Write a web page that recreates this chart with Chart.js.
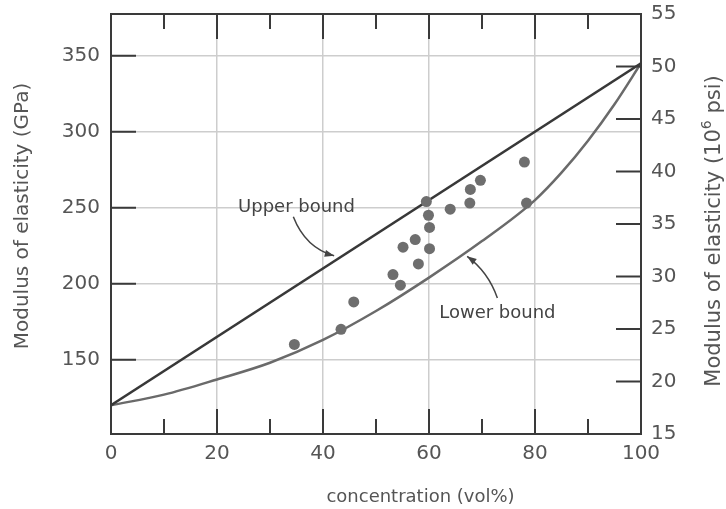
<!DOCTYPE html>
<html>
<head>
<meta charset="utf-8">
<script src="https://cdn.jsdelivr.net/npm/chart.js@4.4.0/dist/chart.umd.min.js"></script>
<style>
  html, body { margin: 0; padding: 0; background: #fff; }
</style>
</head>
<body>
<canvas id="chart" width="726" height="509"></canvas>
<script>
// bounds (GPa vs vol%)
const upperConc = [0, 100];
const upperModulus = [120, 345];
const lowerConc = [0, 10, 20, 30, 40, 50, 60, 70, 80, 85, 90, 95, 100];
const lowerModulus = [120, 127, 137, 148, 163, 182, 204, 228, 255, 273, 294, 318, 345];

// measured points
const measuredConc = [34.6, 43.4, 45.8, 53.2, 54.6, 55.1, 57.4, 58.0, 59.5, 59.9, 60.1, 60.1, 64.0, 67.7, 67.8, 69.7, 78.0, 78.4];
const measuredModulus = [160, 170, 188, 206, 199, 224, 229, 213, 254, 245, 237, 223, 249, 253, 262, 268, 280, 253];

// axis ticks
const gpaTicks = [150, 200, 250, 300, 350];
const psiTicks = [15, 20, 25, 30, 35, 40, 45, 50, 55];
const concTicks = [0, 20, 40, 60, 80, 100];
const concMinorTicks = [10, 30, 50, 70, 90];

const FONT = 'DejaVu Sans';
const TEXT = '#555';
const INK = '#3a3a3a';

const toPoints = (xs, ys) => xs.map((x, i) => ({ x: x, y: ys[i] }));

// frame and inward tick marks
const frameTicks = {
  id: 'frameTicks',
  afterDatasetsDraw(chart) {
    const { ctx, chartArea: a, scales } = chart;
    ctx.save();
    ctx.strokeStyle = INK;
    ctx.lineWidth = 2;
    ctx.strokeRect(a.left, a.top, a.right - a.left, a.bottom - a.top);
    ctx.beginPath();
    gpaTicks.forEach(v => {
      const y = scales.y.getPixelForValue(v);
      ctx.moveTo(a.left, y); ctx.lineTo(a.left + 25, y);
    });
    psiTicks.forEach(v => {
      const y = scales.y2.getPixelForValue(v);
      ctx.moveTo(a.right, y); ctx.lineTo(a.right - 25, y);
    });
    concTicks.forEach(v => {
      const x = scales.x.getPixelForValue(v);
      ctx.moveTo(x, a.bottom); ctx.lineTo(x, a.bottom - 25);
      ctx.moveTo(x, a.top); ctx.lineTo(x, a.top + 25);
    });
    concMinorTicks.forEach(v => {
      const x = scales.x.getPixelForValue(v);
      ctx.moveTo(x, a.bottom); ctx.lineTo(x, a.bottom - 15);
      ctx.moveTo(x, a.top); ctx.lineTo(x, a.top + 15);
    });
    ctx.stroke();
    ctx.restore();
  }
};

function arrow(ctx, sx, sy, cx, cy, ex, ey) {
  ctx.beginPath();
  ctx.moveTo(sx, sy);
  ctx.quadraticCurveTo(cx, cy, ex, ey);
  ctx.stroke();
  const ang = Math.atan2(ey - cy, ex - cx);
  ctx.beginPath();
  ctx.moveTo(ex, ey);
  ctx.lineTo(ex - 10 * Math.cos(ang - 0.35), ey - 10 * Math.sin(ang - 0.35));
  ctx.lineTo(ex - 10 * Math.cos(ang + 0.35), ey - 10 * Math.sin(ang + 0.35));
  ctx.closePath();
  ctx.fill();
}

function verticalText(ctx, cx, cy, parts) {
  // parts: [text, size, raise]; drawn bottom to top, centred on (cx, cy)
  ctx.save();
  ctx.translate(cx, cy);
  ctx.rotate(-Math.PI / 2);
  ctx.textAlign = 'left';
  ctx.textBaseline = 'middle';
  const widths = parts.map(p => { ctx.font = p[1] + 'px "' + FONT + '"'; return ctx.measureText(p[0]).width; });
  let x = -widths.reduce((s, w) => s + w, 0) / 2;
  parts.forEach((p, i) => {
    ctx.font = p[1] + 'px "' + FONT + '"';
    ctx.fillText(p[0], x, -p[2]);
    x += widths[i];
  });
  ctx.restore();
}

// labels, arrows and axis titles
const labels = {
  id: 'labels',
  afterDraw(chart) {
    const { ctx, scales } = chart;
    const px = v => scales.x.getPixelForValue(v);
    const py = v => scales.y.getPixelForValue(v);
    ctx.save();
    ctx.fillStyle = '#444';
    ctx.strokeStyle = '#444';
    ctx.lineWidth = 1.5;
    ctx.font = '18px "' + FONT + '"';
    ctx.textAlign = 'center';
    ctx.textBaseline = 'middle';

    ctx.fillText('Upper bound', px(35.0), py(250));
    arrow(ctx, px(34.4), py(244), px(36.7), py(223.5), px(42.1), py(218.3));

    ctx.fillText('Lower bound', px(72.9), py(180.7));
    arrow(ctx, px(72.9), py(190.6), px(71.2), py(207.7), px(67.2), py(218));

    ctx.fillStyle = TEXT;
    ctx.fillText('concentration (vol%)', px(58.4), 497);

    verticalText(ctx, 23, 216, [['Modulus of elasticity (GPa)', 20, 0]]);
    verticalText(ctx, 715, 231, [
      ['Modulus of elasticity (10', 21, 0],
      ['6', 14, 8],
      [' psi)', 21, 0]
    ]);
    ctx.restore();
  }
};

const fitVertical = width => s => {
  s.width = width;
  s.paddingTop = 0;
  s.paddingBottom = 0;
};

new Chart(document.getElementById('chart').getContext('2d'), {
  type: 'scatter',
  data: {
    datasets: [
      {
        label: 'Measured',
        data: toPoints(measuredConc, measuredModulus),
        pointRadius: 5.5,
        pointBackgroundColor: '#6e6e6e',
        pointBorderWidth: 0,
        order: 0
      },
      {
        label: 'Upper bound',
        data: toPoints(upperConc, upperModulus),
        showLine: true,
        borderColor: '#383838',
        borderWidth: 2.5,
        pointRadius: 0,
        order: 1
      },
      {
        label: 'Lower bound',
        data: toPoints(lowerConc, lowerModulus),
        showLine: true,
        borderColor: '#6a6a6a',
        borderWidth: 2.5,
        pointRadius: 0,
        cubicInterpolationMode: 'monotone',
        order: 2
      }
    ]
  },
  options: {
    responsive: false,
    animation: false,
    layout: { padding: { top: 14, left: 0, right: 0, bottom: 0 } },
    plugins: {
      legend: { display: false },
      tooltip: { enabled: false }
    },
    scales: {
      x: {
        type: 'linear',
        position: 'bottom',
        min: 0,
        max: 100,
        afterBuildTicks: s => { s.ticks = concTicks.map(v => ({ value: v })); },
        afterFit: s => { s.height = 75; s.paddingLeft = 0; s.paddingRight = 0; },
        ticks: { font: { family: FONT, size: 20 }, color: TEXT, padding: 8 },
        grid: { color: '#cdcdcd', lineWidth: 1.5, drawTicks: false },
        border: { display: false }
      },
      y: {
        position: 'left',
        min: 101.1,
        max: 377.4,
        afterBuildTicks: s => { s.ticks = gpaTicks.map(v => ({ value: v })); },
        afterFit: fitVertical(111),
        ticks: { font: { family: FONT, size: 20 }, color: TEXT, padding: 11 },
        grid: { color: '#cdcdcd', lineWidth: 1.5, drawTicks: false },
        border: { display: false }
      },
      y2: {
        position: 'right',
        min: 15,
        max: 55,
        afterBuildTicks: s => { s.ticks = psiTicks.map(v => ({ value: v })); },
        afterFit: fitVertical(85),
        ticks: { font: { family: FONT, size: 20 }, color: TEXT, padding: 10 },
        grid: { display: false, drawTicks: false },
        border: { display: false }
      }
    }
  },
  plugins: [frameTicks, labels]
});
</script>
</body>
</html>
